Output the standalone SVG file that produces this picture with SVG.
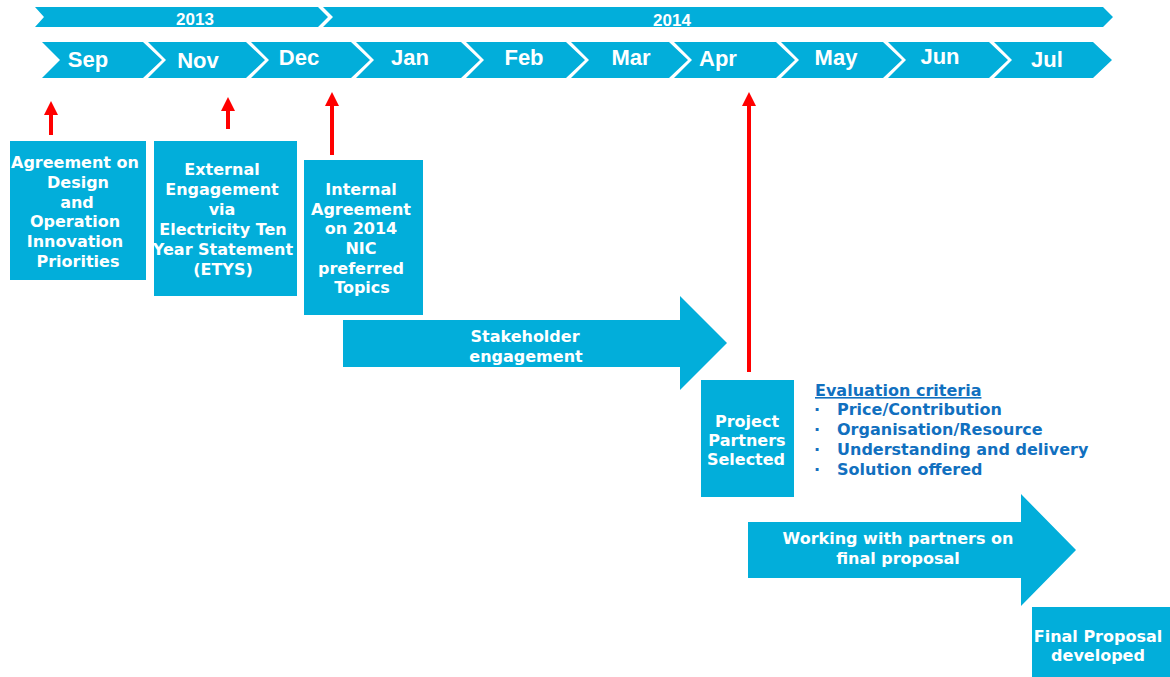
<svg xmlns="http://www.w3.org/2000/svg" width="1170" height="677" viewBox="0 0 1170 677">
<defs>
<style>
.bar{fill:#02AEDA}
.mon{font-family:"Liberation Sans",Arial,sans-serif;font-weight:bold;font-size:22px;fill:#fff;text-anchor:middle}
.yr{font-family:"Liberation Sans",Arial,sans-serif;font-weight:bold;font-size:17px;fill:#fff;text-anchor:middle}
.bx{font-family:"DejaVu Sans",Verdana,sans-serif;font-weight:bold;font-size:16px;fill:#fff;text-anchor:middle}
.ev{font-family:"DejaVu Sans",Verdana,sans-serif;font-weight:bold;font-size:16px;fill:#1170BF}
.red{stroke:#FF0000;stroke-width:4;fill:none}
</style>
<marker id="ah" markerUnits="userSpaceOnUse" markerWidth="14" markerHeight="14" refX="0" refY="7" orient="auto">
<path d="M0,0 L14,7 L0,14 z" fill="#FF0000"/>
</marker>
</defs>
<rect width="1170" height="677" fill="#fff"/>

<g id="years">
<polygon class="bar" points="35,7 318,7 328,17 318,27 35,27 44,17"/>
<text class="yr" x="195" y="25">2013</text>
<polygon class="bar" points="323,7 1103,7 1113,17 1103,27 323,27 333,17"/>
<text class="yr" x="672" y="26">2014</text>
</g>

<g id="months">
<polygon class="bar" points="42,42 143,42 162,60 143,78 42,78 60,60"/>
<text class="mon" x="88" y="67">Sep</text>
<polygon class="bar" points="148,42 246,42 265,60 246,78 148,78 166,60"/>
<text class="mon" x="198" y="68">Nov</text>
<polygon class="bar" points="251,42 351,42 370,60 351,78 251,78 269,60"/>
<text class="mon" x="299" y="65">Dec</text>
<polygon class="bar" points="356,42 461,42 480,60 461,78 356,78 374,60"/>
<text class="mon" x="410" y="65">Jan</text>
<polygon class="bar" points="466,42 566,42 585,60 566,78 466,78 484,60"/>
<text class="mon" x="524" y="65">Feb</text>
<polygon class="bar" points="571,42 669,42 688,60 669,78 571,78 589,60"/>
<text class="mon" x="631" y="65">Mar</text>
<polygon class="bar" points="674,42 776,42 795,60 776,78 674,78 692,60"/>
<text class="mon" x="718" y="66">Apr</text>
<polygon class="bar" points="781,42 883,42 902,60 883,78 781,78 799,60"/>
<text class="mon" x="836" y="65">May</text>
<polygon class="bar" points="888,42 989,42 1008,60 989,78 888,78 906,60"/>
<text class="mon" x="940" y="64">Jun</text>
<polygon class="bar" points="994,42 1093,42 1112,60 1093,78 994,78 1012,60"/>
<text class="mon" x="1047" y="67">Jul</text>
</g>

<g id="connectors">
<line class="red" x1="51" y1="135" x2="51" y2="115" marker-end="url(#ah)"/>
<line class="red" x1="228" y1="129" x2="228" y2="111" marker-end="url(#ah)"/>
<line class="red" x1="332" y1="155" x2="332" y2="106" marker-end="url(#ah)"/>
<line class="red" x1="749" y1="372" x2="749" y2="106" marker-end="url(#ah)"/>
</g>

<g id="box-agreement">
<rect class="bar" x="10" y="141" width="136" height="139"/>
<text class="bx" x="76"><tspan x="75" y="168">Agreement on</tspan><tspan x="78" y="188">Design</tspan><tspan x="77" y="208">and</tspan><tspan x="75" y="227">Operation</tspan><tspan x="75" y="247">Innovation</tspan><tspan x="78" y="267">Priorities</tspan></text>
</g>

<g id="box-external">
<rect class="bar" x="154" y="141" width="143" height="155"/>
<text class="bx"><tspan x="222" y="175">External</tspan><tspan x="222" y="195">Engagement</tspan><tspan x="222" y="215">via</tspan><tspan x="223" y="235">Electricity Ten</tspan><tspan x="223" y="255">Year Statement</tspan><tspan x="223" y="275">(ETYS)</tspan></text>
</g>

<g id="box-internal">
<rect class="bar" x="304" y="160" width="119" height="155"/>
<text class="bx"><tspan x="361" y="195">Internal</tspan><tspan x="361" y="215">Agreement</tspan><tspan x="361" y="234">on 2014</tspan><tspan x="361" y="254">NIC</tspan><tspan x="361" y="274">preferred</tspan><tspan x="362" y="293">Topics</tspan></text>
</g>

<g id="arrow-stakeholder">
<polygon class="bar" points="343,320 680,320 680,296 727,343 680,390 680,367 343,367"/>
<text class="bx"><tspan x="525" y="342">Stakeholder</tspan><tspan x="526" y="362">engagement</tspan></text>
</g>

<g id="box-partners">
<rect class="bar" x="701" y="380" width="93" height="117"/>
<text class="bx"><tspan x="747" y="427">Project</tspan><tspan x="747" y="446">Partners</tspan><tspan x="746" y="465">Selected</tspan></text>
</g>

<g id="evaluation">
<text class="ev" x="815" y="396" text-decoration="underline">Evaluation criteria</text>
<text class="ev" x="814" y="415">·</text><text class="ev" x="837" y="415">Price/Contribution</text>
<text class="ev" x="814" y="435">·</text><text class="ev" x="837" y="435">Organisation/Resource</text>
<text class="ev" x="814" y="455">·</text><text class="ev" x="837" y="455">Understanding and delivery</text>
<text class="ev" x="814" y="475">·</text><text class="ev" x="837" y="475">Solution offered</text>
</g>

<g id="arrow-working">
<polygon class="bar" points="748,522 1021,522 1021,494 1076,550 1021,606 1021,578 748,578"/>
<text class="bx"><tspan x="898" y="544">Working with partners on</tspan><tspan x="898" y="564">final proposal</tspan></text>
</g>

<g id="box-final">
<rect class="bar" x="1032" y="607" width="138" height="70"/>
<text class="bx"><tspan x="1098" y="642">Final Proposal</tspan><tspan x="1098" y="661">developed</tspan></text>
</g>
</svg>
